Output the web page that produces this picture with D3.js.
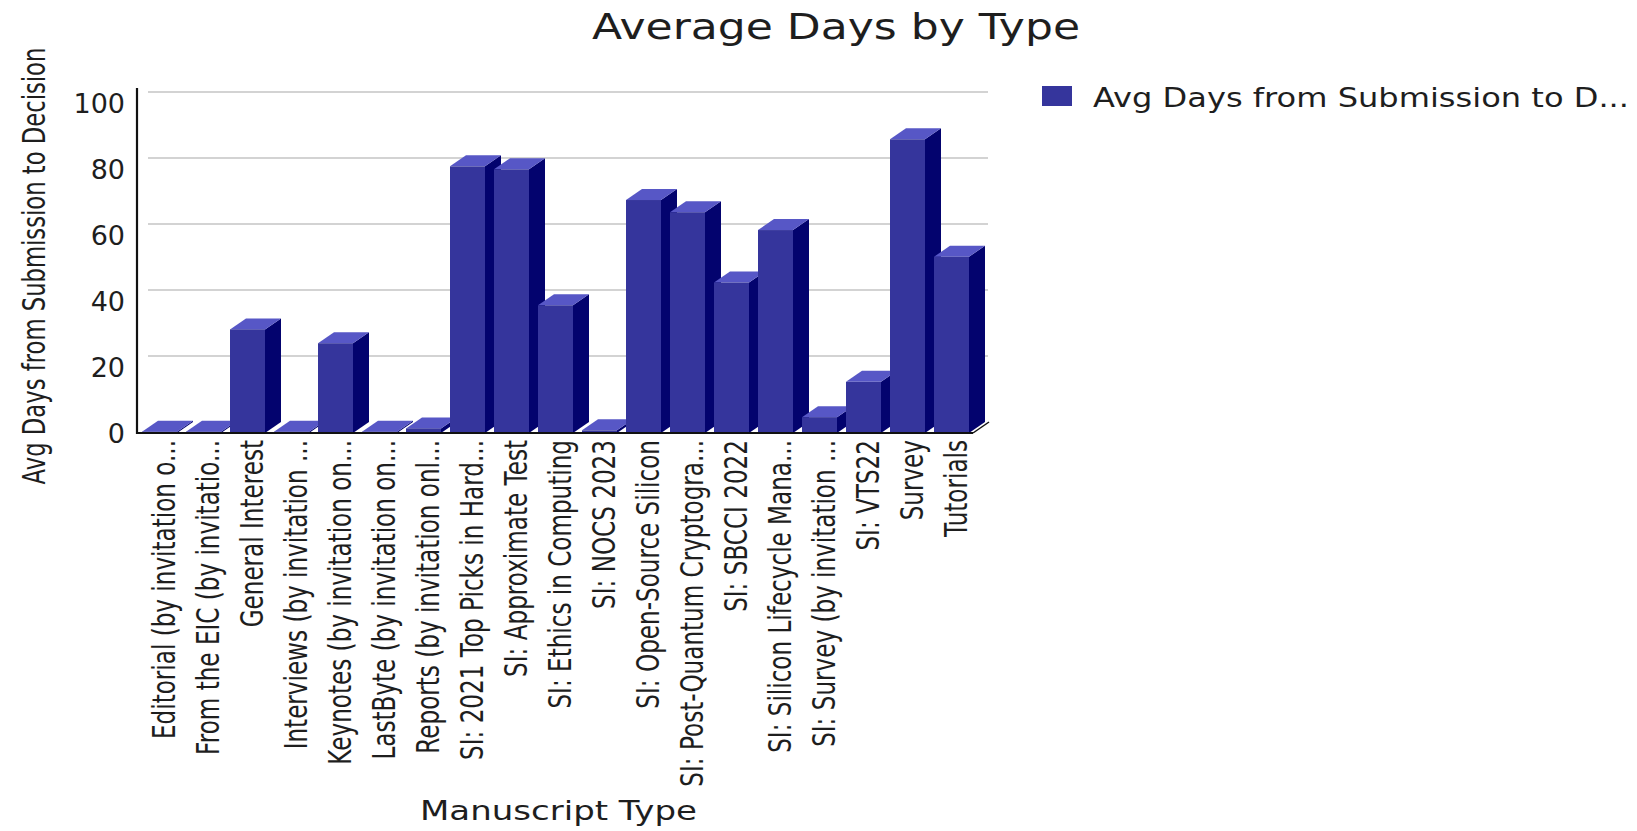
<!DOCTYPE html>
<html>
<head>
<meta charset="utf-8">
<script src="https://cdn.jsdelivr.net/npm/d3@7"></script>
<style>
  html, body { margin: 0; padding: 0; background: #ffffff; }
  svg { display: block; }
  text { font-family: "DejaVu Sans", "Lato", sans-serif; fill: #1e1e1e; }
</style>
</head>
<body>
<svg id="chart" width="1637" height="831"></svg>
<script>
// Manuscript types along the category axis
const categories = [
  "Editorial (by invitation o...",
  "From the EIC (by invitatio...",
  "General Interest",
  "Interviews (by invitation ...",
  "Keynotes (by invitation on...",
  "LastByte (by invitation on...",
  "Reports (by invitation onl...",
  "SI: 2021 Top Picks in Hard...",
  "SI: Approximate Test",
  "SI: Ethics in Computing",
  "SI: NOCS 2023",
  "SI: Open-Source Silicon",
  "SI: Post-Quantum Cryptogra...",
  "SI: SBCCI 2022",
  "SI: Silicon Lifecycle Mana...",
  "SI: Survey (by invitation ...",
  "SI: VTS22",
  "Survey",
  "Tutorials"
];

// Average days from submission to decision, one value per type
const avgDays = [0.4, 0.4, 31.4, 0.4, 27.2, 0.4, 1.4, 80.8, 79.9, 38.7,
                 0.8, 70.6, 66.9, 45.6, 61.5, 4.8, 15.5, 89.0, 53.4];

const yTicks = [0, 20, 40, 60, 80, 100];

const seriesName = "Avg Days from Submission to D...";
const chartTitle = "Average Days by Type";
const xTitle = "Manuscript Type";
const yTitle = "Avg Days from Submission to Decision";

(function draw() {
  const svg = d3.select("#chart");
  const plotLeft = 137, plotRight = 973, plotBase = 433, plotTop = 103;
  const depthX = 16, depthY = 11;          // 3D extrusion of bars and back wall
  const barOffset = 5, barWidth = 35;

  const x = d3.scaleBand().domain(categories).range([plotLeft, plotRight]).paddingInner(0).paddingOuter(0);
  const y = d3.scaleLinear().domain([0, 100]).range([plotBase, plotTop]);

  const colors = { front: "#35359c", side: "#03036e", top: "#5757c6", grid: "#c4c4c4" };

  // back-wall gridlines
  svg.append("g").selectAll("line").data(yTicks.filter(d => d > 0)).join("line")
    .attr("x1", plotLeft + 11).attr("x2", plotRight + depthX - 1)
    .attr("y1", d => y(d) - depthY).attr("y2", d => y(d) - depthY)
    .attr("stroke", colors.grid).attr("stroke-width", 1.6);

  // floor edge on the right
  svg.append("line")
    .attr("x1", plotRight).attr("y1", plotBase).attr("x2", plotRight + depthX).attr("y2", plotBase - depthY)
    .attr("stroke", "#111").attr("stroke-width", 1.5);

  // bars (drawn left to right so later faces overlap earlier sides)
  const bars = svg.append("g");
  categories.forEach((c, i) => {
    const v = avgDays[i];
    const x0 = x(c) + barOffset, x1 = x0 + barWidth;
    const yt = y(v), yb = y(0);
    const g = bars.append("g");
    g.append("path")
      .attr("d", `M${x1},${yb} L${x1 + depthX},${yb - depthY} L${x1 + depthX},${yt - depthY} L${x1},${yt} Z`)
      .attr("fill", colors.side);
    g.append("path")
      .attr("d", `M${x0},${yt} L${x0 + depthX},${yt - depthY} L${x1 + depthX},${yt - depthY} L${x1},${yt} Z`)
      .attr("fill", colors.top);
    g.append("rect")
      .attr("x", x0).attr("y", yt).attr("width", barWidth).attr("height", Math.max(0, yb - yt))
      .attr("fill", colors.front);
  });

  // axis lines
  svg.append("line").attr("x1", plotLeft).attr("x2", plotLeft).attr("y1", 88).attr("y2", plotBase + 1)
    .attr("stroke", "#111").attr("stroke-width", 2.2);
  svg.append("line").attr("x1", plotLeft).attr("x2", plotRight).attr("y1", plotBase).attr("y2", plotBase)
    .attr("stroke", "#111").attr("stroke-width", 2.2);

  // y tick labels
  svg.append("g").selectAll("text").data(yTicks).join("text")
    .attr("x", 125).attr("y", d => y(d))
    .attr("text-anchor", "end").attr("dominant-baseline", "central")
    .style("font-size", "27px")
    .text(d => d);

  // category labels, rotated
  svg.append("g").selectAll("text").data(categories).join("text")
    .attr("transform", d => `translate(${x(d) + 27.5},440) rotate(-90) scale(1,1.38)`)
    .attr("text-anchor", "end").attr("dominant-baseline", "central")
    .style("font-size", "23.1px")
    .text(d => d);

  // titles
  svg.append("text").attr("x", 592).attr("y", 38.5)
    .attr("textLength", 488).attr("lengthAdjust", "spacingAndGlyphs")
    .style("font-size", "36px").text(chartTitle);

  svg.append("text").attr("x", 420).attr("y", 820)
    .attr("textLength", 277).attr("lengthAdjust", "spacingAndGlyphs")
    .style("font-size", "26px").text(xTitle);

  svg.append("text")
    .attr("transform", "translate(34,266) rotate(-90) scale(1,1.4)")
    .attr("text-anchor", "middle").attr("dominant-baseline", "central")
    .style("font-size", "22.7px").text(yTitle);

  // legend
  svg.append("rect").attr("x", 1042).attr("y", 86).attr("width", 30).attr("height", 20)
    .attr("fill", colors.front);
  svg.append("text").attr("x", 1093).attr("y", 107)
    .attr("textLength", 536).attr("lengthAdjust", "spacingAndGlyphs")
    .style("font-size", "26px").text(seriesName);
})();
</script>
</body>
</html>
